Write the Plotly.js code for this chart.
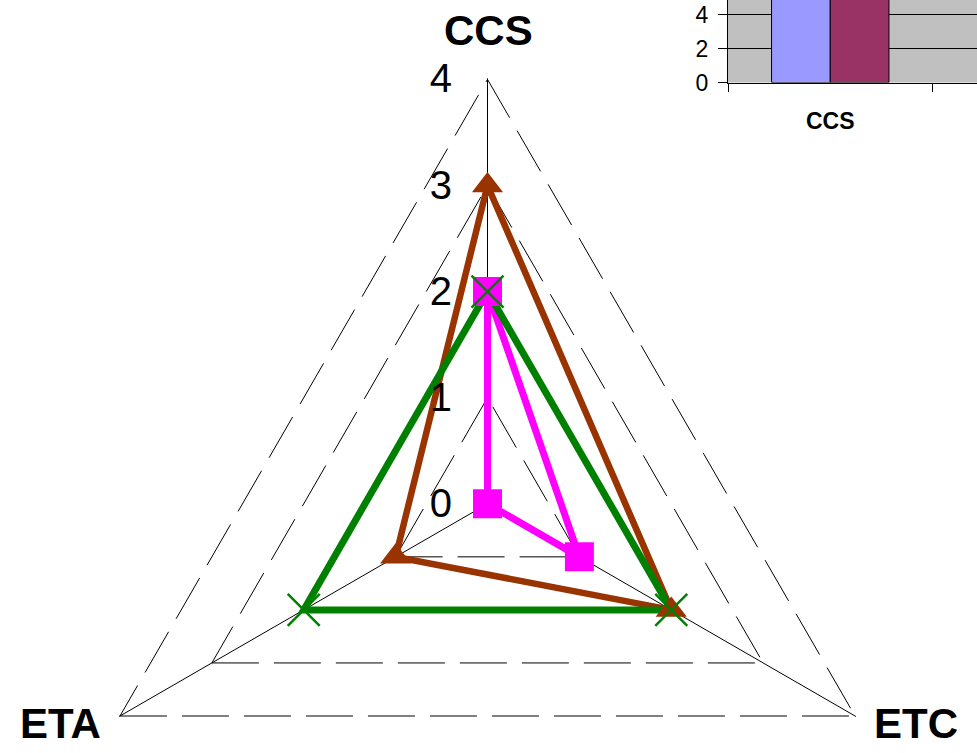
<!DOCTYPE html>
<html>
<head>
<meta charset="utf-8">
<script src="https://cdn.plot.ly/plotly-3.0.1.min.js"></script>
<style>
  html, body { margin: 0; padding: 0; background: #fff; overflow: hidden; }
  #wrap { width: 977px; height: 753px; overflow: hidden; position: relative; }
  #chart { width: 977px; height: 960px; }
</style>
</head>
<body>
<div id="wrap"><div id="chart"></div></div>
<script>
// Radar categories (clockwise from top)
const categories = ['CCS', 'ETC', 'ETA'];
// Series values on each category
const seriesMagenta = [2, 1, 0];
const seriesBrown   = [3, 2, 1];
const seriesGreen   = [2, 2, 2];
const radialTicks   = [0, 1, 2, 3, 4];

// Inset bar chart (cut off at the top in the original)
const barCategories = ['CCS'];
const barSeriesA = [6];
const barSeriesB = [6];
const barTicks = [0, 2, 4];

const closeLoop = a => a.concat([a[0]]);
const thetaClosed = closeLoop(categories);

const FONT = 'Liberation Sans, Arial, sans-serif';

const lineDefs = [
  {r: seriesMagenta, color: '#FF00FF', width: 7},
  {r: seriesBrown,   color: '#993300', width: 6.5},
  {r: seriesGreen,   color: '#008000', width: 7}
];
const markerDefs = [
  {r: seriesMagenta, marker: {symbol: 'square', size: 29, color: '#FF00FF'}},
  {r: seriesBrown,   marker: {symbol: 'triangle-up', size: 27, color: '#993300'}},
  {r: seriesGreen,   marker: {symbol: 'x-thin', size: 32, color: '#008000', line: {color: '#008000', width: 2.5}}}
];

const data = [];
lineDefs.forEach(d => data.push({
  type: 'scatterpolar', mode: 'lines', r: closeLoop(d.r), theta: thetaClosed,
  line: {color: d.color, width: d.width}, hoverinfo: 'skip', cliponaxis: true
}));
markerDefs.forEach(d => data.push({
  type: 'scatterpolar', mode: 'markers', r: d.r, theta: categories,
  marker: d.marker, hoverinfo: 'skip', cliponaxis: true
}));

data.push({type: 'bar', x: barCategories, y: barSeriesA, xaxis: 'x', yaxis: 'y',
  marker: {color: '#9999FF', line: {color: '#000', width: 1}}});
data.push({type: 'bar', x: barCategories, y: barSeriesB, xaxis: 'x', yaxis: 'y',
  marker: {color: '#993366', line: {color: '#000', width: 1}}});

const W = 977, H = 960;

// Radar geometry: centre and pixel length of 4 units
const CX = 487.5, CY = 503.8, R4 = 424.4, RMAX = 4.01;
const R = R4 * RMAX / 4;

// Category labels of the radar, placed outside each vertex
const labelPos = {CCS: [488, 30], ETC: [916, 723], ETA: [60, 723]};
const annotations = categories.map(c => ({
  text: c, xref: 'paper', yref: 'paper',
  x: labelPos[c][0] / W, y: 1 - labelPos[c][1] / H,
  xanchor: 'center', yanchor: 'middle', showarrow: false,
  font: {family: FONT, size: 42, color: '#000', weight: 'bold'}
}));

const layout = {
  width: W, height: H,
  margin: {l: 0, r: 0, t: 0, b: 0},
  paper_bgcolor: '#ffffff',
  plot_bgcolor: '#C0C0C0',
  showlegend: false,
  barmode: 'group', bargap: 0.426, bargroupgap: 0,
  annotations: annotations,
  polar: {
    domain: {x: [(CX - R) / W, (CX + R) / W], y: [(H - CY - R) / H, (H - CY + R) / H]},
    bgcolor: 'rgba(0,0,0,0)',
    gridshape: 'linear',
    angularaxis: {
      type: 'category', categoryarray: categories, rotation: 90, direction: 'clockwise',
      showline: false, showgrid: true, gridcolor: '#000', gridwidth: 1,
      ticks: '', showticklabels: false
    },
    radialaxis: {
      range: [0, RMAX], tickvals: radialTicks, angle: 90, side: 'counterclockwise',
      showline: false, showgrid: true, gridcolor: '#000', gridwidth: 1, griddash: '47px,15px',
      ticks: 'outside', ticklen: 21, tickcolor: 'rgba(0,0,0,0)', tickangle: 90,
      tickfont: {family: FONT, size: 40, color: '#000'}, layer: 'above traces'
    }
  },
  xaxis: {
    domain: [728 / W, 1], range: [-0.5, (W - 728) / 204.5 - 0.5],
    type: 'category', tickson: 'boundaries', ticks: 'outside', ticklen: 8, tickcolor: '#000',
    showline: true, linecolor: '#000', linewidth: 1, showgrid: false, zeroline: false,
    ticklabelstandoff: 18,
    tickfont: {family: FONT, size: 23, color: '#000', weight: 'bold'}
  },
  yaxis: {
    domain: [(H - 82.5) / H, 1], range: [0, 82.5 / 17],
    tickvals: barTicks, ticks: 'outside', ticklen: 9, tickcolor: '#000',
    showline: true, linecolor: '#000', linewidth: 1,
    showgrid: true, gridcolor: '#000', gridwidth: 1, zeroline: false,
    ticklabelstandoff: 5,
    tickfont: {family: FONT, size: 23, color: '#000'}
  }
};

Plotly.newPlot('chart', data, layout, {staticPlot: true, displayModeBar: false});
</script>
</body>
</html>
